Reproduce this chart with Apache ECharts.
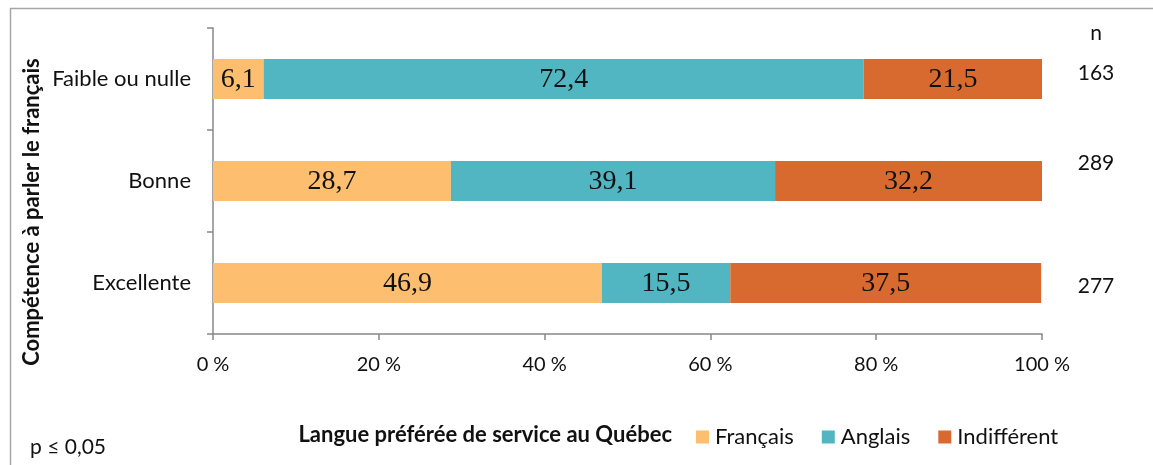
<!DOCTYPE html>
<html>
<head>
<meta charset="utf-8">
<script src="https://cdn.jsdelivr.net/npm/echarts@6/dist/echarts.min.js"></script>
<style>
html,body{margin:0;padding:0;background:#fff;}
#c{width:1153px;height:465px;}
</style>
</head>
<body>
<div id="c"></div>
<script>
const categories = ['Faible ou nulle', 'Bonne', 'Excellente'];
const francais = [6.1, 28.7, 46.9];
const anglais = [72.4, 39.1, 15.5];
const indifferent = [21.5, 32.2, 37.5];
const nValues = [163, 289, 277];
const xTicks = [0, 20, 40, 60, 80, 100];
const seriesNames = ['Français', 'Anglais', 'Indifférent'];
const colors = ['#FDBE6F', '#51B5C2', '#D96A2F'];

const chart = echarts.init(document.getElementById('c'));
const sans = 'Lato';
const serif = 'Liberation Serif';

function mkSeries(name, data, color) {
  return {
    name: name, type: 'bar', stack: 'total', data: data, barWidth: 40,
    itemStyle: { color: color },
    label: {
      show: true, position: 'inside', color: '#111',
      fontFamily: serif, fontSize: 28, offset: [0, 1],
      formatter: p => String(p.value).replace('.', ',')
    },
    emphasis: { disabled: true }
  };
}

function txt(text, x, y, size, opts) {
  return {
    type: 'text', x: x, y: y,
    style: Object.assign({ text: text, fontFamily: sans, fontSize: size, fill: '#111', align: 'center', verticalAlign: 'middle' }, opts || {})
  };
}

chart.setOption({
  animation: false,
  grid: { left: 213, right: 111, top: 28, bottom: 131 },
  legend: {
    data: seriesNames, left: 691, top: 421,
    itemWidth: 13, itemHeight: 13, itemGap: 28, icon: 'rect',
    textStyle: { fontFamily: sans, fontSize: 22, color: '#111', padding: [0, 0, 0, 1] }
  },
  xAxis: {
    type: 'value', min: 0, max: 100, interval: 20,
    axisLine: { show: true, lineStyle: { color: '#888', width: 1.5 } },
    axisTick: { show: true, length: 6, lineStyle: { color: '#888', width: 1.5 } },
    splitLine: { show: false },
    axisLabel: {
      margin: 21, fontFamily: sans, fontSize: 20, color: '#111',
      formatter: v => xTicks.includes(v) ? v + ' %' : ''
    }
  },
  yAxis: {
    type: 'category', data: categories, inverse: true,
    axisLine: { show: true, lineStyle: { color: '#888', width: 1.5 } },
    axisTick: { show: true, length: 6, lineStyle: { color: '#888', width: 1.5 } },
    axisLabel: { margin: 22, fontFamily: sans, fontSize: 22, color: '#111' }
  },
  series: [
    mkSeries(seriesNames[0], francais, colors[0]),
    mkSeries(seriesNames[1], anglais, colors[1]),
    mkSeries(seriesNames[2], indifferent, colors[2])
  ]
});

const nOffsets = [-6, -18, 3];
const graphics = [
  { type: 'line', shape: { x1: 10, y1: 8.5, x2: 1153, y2: 8.5 }, style: { stroke: '#A6A6A6', lineWidth: 1.5 } },
  { type: 'line', shape: { x1: 10.5, y1: 8, x2: 10.5, y2: 465 }, style: { stroke: '#A6A6A6', lineWidth: 1.5 } },
  Object.assign(txt('Compétence à parler le français', 32, 212, 22, { fontWeight: 'bold' }), { rotation: Math.PI / 2 }),
  txt('n', 1096, 33, 21),
  txt('Langue préférée de service au Québec', 672, 435, 22, { fontWeight: 'bold', align: 'right' }),
  txt('p ≤ 0,05', 30, 447, 21, { align: 'left' })
];
nValues.forEach((n, i) => {
  const y = chart.convertToPixel({ yAxisIndex: 0 }, categories[i]);
  graphics.push(txt(String(n), 1096, y + nOffsets[i], 21));
});
chart.setOption({ graphic: graphics });
</script>
</body>
</html>
